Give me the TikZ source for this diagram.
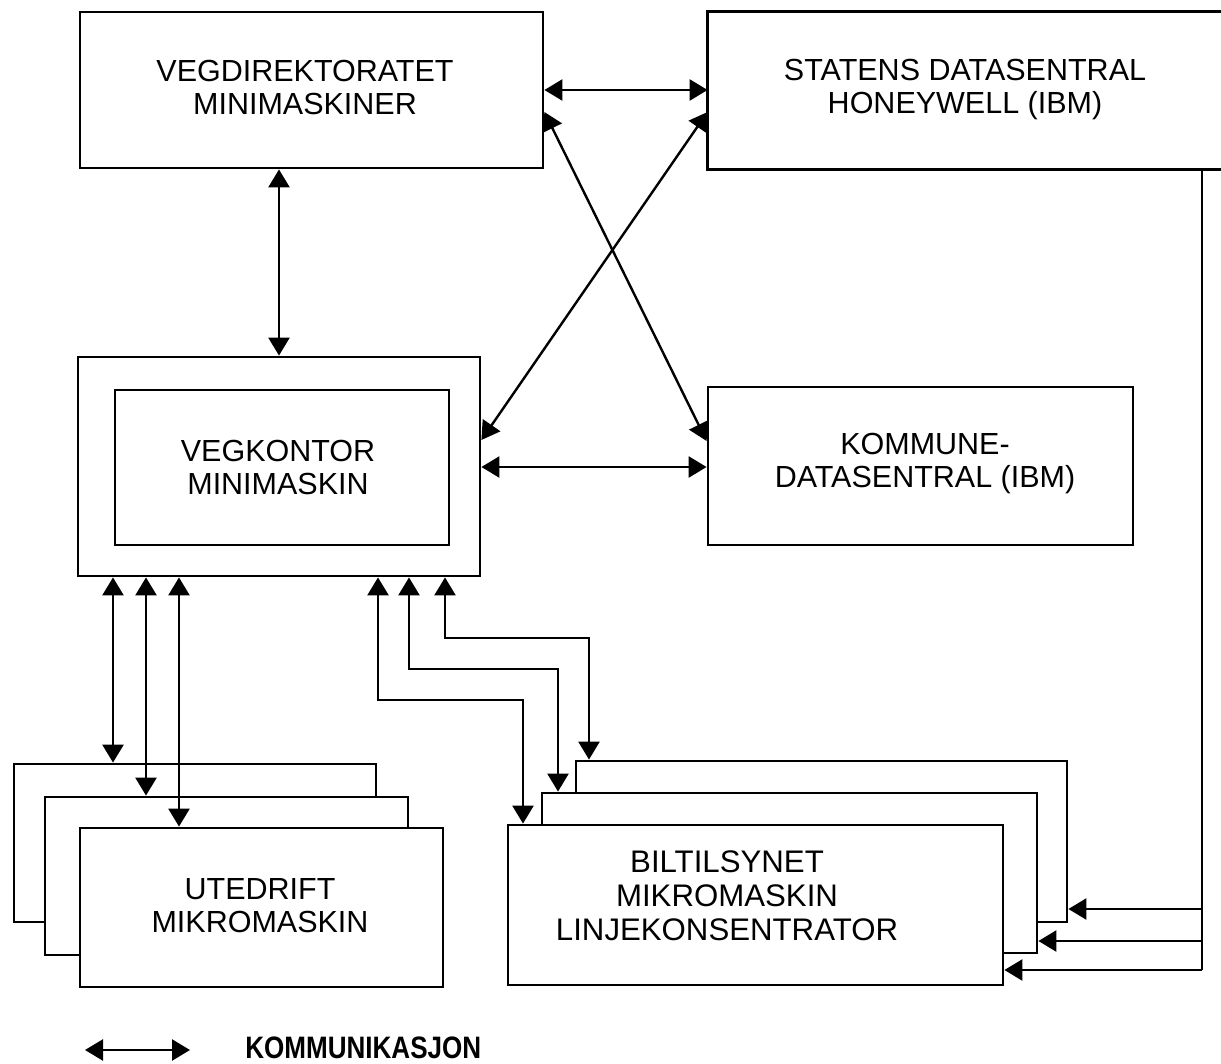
\documentclass[tikz,border=0pt]{standalone}
\usepackage{fontspec}
\setmainfont{Liberation Sans}
\usetikzlibrary{arrows.meta,fit}
\begin{document}
\begin{tikzpicture}[x=0.5pt,y=-0.5pt,
  box/.style={draw, line width=1.4pt, fill=white, inner sep=0pt},
  lbl/.style={align=center, inner sep=0pt, font=\fontsize{15.25}{16.5}\selectfont},
  tip/.tip={Triangle[length=9pt,width=10.5pt]},
  link/.style={line width=1.2pt, tip-tip},
  feed/.style={line width=1.2pt, -tip},
  wire/.style={line width=1.2pt}]
\useasboundingbox (0,0) rectangle (1221,1064);

% top boxes
\node[box, fit={(80,12) (543,168)}] (vd) {};
\node[lbl] (vdt) at (305,88) {VEGDIREKTORATET\\MINIMASKINER};
\node[inner sep=0pt, fit={(708,12) (1221,169)}] (sd) {};
\draw[line width=1.4pt] (sd.north east) -- (sd.north west) -- (sd.south west) -- (sd.south east);
\node[lbl] (sdt) at (965,90) {STATENS DATASENTRAL\\HONEYWELL (IBM)};

% middle boxes
\node[box, fit={(78,357) (480,576)}] (vk) {};
\node[box, fit={(115,390) (449,545)}] (vki) {};
\node[lbl] (vkt) at (278,467) {VEGKONTOR\\MINIMASKIN};
\node[box, fit={(708,387) (1133,545)}] (kd) {};
\node[lbl] (kdt) at (925,464) {KOMMUNE-\\DATASENTRAL (IBM)};

% utedrift stack
\node[box, fit={(14,764) (376,922)}] (u1) {};
\node[box, fit={(45,797) (408,955)}] (u2) {};
\node[box, fit={(80,828) (443,987)}] (u3) {};
\node[lbl] (ut) at (260,906) {UTEDRIFT\\MIKROMASKIN};

% biltilsynet stack
\node[box, fit={(576,761) (1067,922)}] (b1) {};
\node[box, fit={(542,793) (1037,953)}] (b2) {};
\node[box, fit={(508,825) (1003,985)}] (b3) {};
\node[lbl, font=\fontsize{15.6}{17}\selectfont] (bt) at (727,896) {BILTILSYNET\\MIKROMASKIN\\LINJEKONSENTRATOR};

% communication links
\draw[link] (vd.east |- 0,90) -- (sd.west |- 0,90);
\draw[link] (vd.east |- 0,112) -- (kd.west |- 0,441);
\draw[link] (sd.west |- 0,112) -- (vk.east |- 0,440);
\draw[link] (vk.east |- 0,467) -- (kd.west |- 0,467);
\draw[link] (vd.south -| 279,0) -- (vk.north -| 279,0);

\draw[link] (vk.south -| 113,0) -- (u1.north -| 113,0);
\draw[link] (vk.south -| 146,0) -- (u2.north -| 146,0);
\draw[link] (vk.south -| 179,0) -- (u3.north -| 179,0);

\draw[link] (vk.south -| 378,0) |- (523,700) -- (b3.north -| 523,0);
\draw[link] (vk.south -| 409,0) |- (558,669) -- (b2.north -| 558,0);
\draw[link] (vk.south -| 445,0) |- (589,638) -- (b1.north -| 589,0);

% right feed line
\coordinate (j1) at (1202,909);
\coordinate (j2) at (1202,941);
\coordinate (j3) at (1202,970);
\draw[wire] (sd.south -| j3) -- (j3);
\draw[feed] (j1) -- (b1.east |- j1);
\draw[feed] (j2) -- (b2.east |- j2);
\draw[feed] (j3) -- (b3.east |- j3);

% legend
\coordinate (lg1) at (85,1050);
\coordinate (lg2) at (190,1050);
\draw[link] (lg1) -- (lg2);
\node[anchor=base west, inner sep=0pt, font=\bfseries\fontsize{15.5}{17}\selectfont] (leg) at (245,1058) {\scalebox{0.84}[1]{KOMMUNIKASJON}};
\end{tikzpicture}
\end{document}
